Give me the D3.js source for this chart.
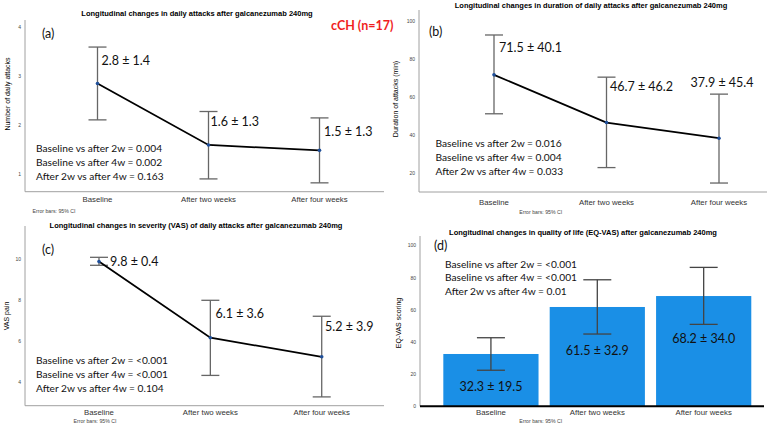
<!DOCTYPE html>
<html>
<head>
<meta charset="utf-8">
<script src="https://cdn.jsdelivr.net/npm/d3@7"></script>
<style>
  body { margin: 0; background: #fff; }
  svg { display: block; }
</style>
</head>
<body>
<svg id="chart" width="767" height="426"></svg>
<script>
const categories = ["Baseline", "After two weeks", "After four weeks"];

// (a) number of daily attacks
const attacksMean = [2.84, 1.59, 1.48];
const attacksLow = [2.10, 0.90, 0.82];
const attacksHigh = [3.58, 2.27, 2.14];
const attacksLabels = ["2.8 ± 1.4", "1.6 ± 1.3", "1.5 ± 1.3"];
const attacksTicks = [1, 2, 3, 4];
const attacksP = ["Baseline vs after 2w = 0.004", "Baseline vs after 4w = 0.002", "After 2w vs after 4w = 0.163"];

// (b) duration of attacks (min)
const durationMean = [71.6, 46.6, 38.4];
const durationLow = [51.2, 23.0, 14.9];
const durationHigh = [92.5, 70.4, 61.5];
const durationLabels = ["71.5 ± 40.1", "46.7 ± 46.2", "37.9 ± 45.4"];
const durationTicks = [20, 40, 60, 80, 100];
const durationP = ["Baseline vs after 2w = 0.016", "Baseline vs after 4w = 0.004", "After 2w vs after 4w = 0.033"];

// (c) VAS pain
const vasMean = [9.87, 6.15, 5.22];
const vasLow = [9.69, 4.31, 3.26];
const vasHigh = [10.08, 7.98, 7.20];
const vasLabels = ["9.8 ± 0.4", "6.1 ± 3.6", "5.2 ± 3.9"];
const vasTicks = [4, 6, 8, 10];
const vasP = ["Baseline vs after 2w = <0.001", "Baseline vs after 4w = <0.001", "After 2w vs after 4w = 0.104"];

// (d) EQ-VAS
const eqMean = [32.5, 61.7, 68.5];
const eqLow = [22.4, 44.9, 50.9];
const eqHigh = [42.6, 78.6, 86.3];
const eqLabels = ["32.3 ± 19.5", "61.5 ± 32.9", "68.2 ± 34.0"];
const eqTicks = [0, 20, 40, 60, 80, 100];
const eqP = ["Baseline vs after 2w = <0.001", "Baseline vs after 4w = <0.001", "After 2w vs after 4w = 0.01"];

const svg = d3.select('#chart');
svg.append('rect').attr('width', 767).attr('height', 426).attr('fill', '#fff');

const titleFont = '"Liberation Sans", Arial, sans-serif';
const noteFont = 'Lato, "Open Sans", sans-serif';

function zip(mean, low, high, labels) {
  return categories.map((c, i) => ({ cat: c, mean: mean[i], low: low[i], high: high[i], label: labels[i] }));
}

function frame(g, opt, x, y) {
  // title
  g.append('text')
    .attr('x', opt.titleX).attr('y', opt.titleY)
    .attr('text-anchor', 'middle')
    .style('font-family', titleFont).style('font-weight', 'bold').style('font-size', '7.5px')
    .text(opt.title);

  // y axis
  const ya = g.append('g')
    .attr('transform', `translate(${opt.left},0)`)
    .call(d3.axisLeft(y).tickValues(opt.ticks).tickFormat(d3.format('d')).tickSize(0).tickPadding(4));
  ya.select('.domain').remove();
  ya.selectAll('text').style('font-family', titleFont).style('font-size', '5px').attr('fill', '#444');
  g.append('line')
    .attr('x1', opt.left).attr('x2', opt.left)
    .attr('y1', opt.top).attr('y2', opt.bottom)
    .attr('stroke', '#a0a0a0').attr('stroke-width', 1);

  // x axis
  const xa = g.append('g')
    .attr('transform', `translate(0,${opt.bottom})`)
    .call(d3.axisBottom(x).tickSize(0).tickPadding(opt.catPad));
  xa.select('.domain').remove();
  xa.selectAll('text').style('font-family', titleFont).style('font-size', '7.8px').attr('fill', '#333');

  // y label
  g.append('text')
    .attr('transform', `translate(${opt.yLabelX},${opt.yLabelY}) rotate(-90)`)
    .attr('text-anchor', 'middle')
    .style('font-family', titleFont).style('font-size', '7px')
    .text(opt.yLabel);

  // error bar note
  g.append('text')
    .attr('x', opt.noteX).attr('y', opt.noteY)
    .attr('text-anchor', 'middle')
    .style('font-family', titleFont).style('font-size', '5.2px').attr('fill', '#444')
    .text('Error bars: 95% CI');

  // panel letter
  g.append('text')
    .attr('x', opt.letter[1]).attr('y', opt.letter[2])
    .style('font-family', noteFont).style('font-size', '12.5px').attr('fill', '#111')
    .text(opt.letter[0]);

  // p-values
  g.selectAll('text.p')
    .data(opt.pvals)
    .join('text')
    .attr('class', 'p')
    .attr('x', opt.pX)
    .attr('y', (d, i) => opt.pY[i])
    .style('font-family', noteFont).style('font-size', '10.2px').attr('fill', '#111')
    .text(d => d);
}

function linePanel(opt) {
  const g = svg.append('g');
  const x = d3.scaleBand().domain(categories).range(opt.xRange);
  const y = d3.scaleLinear().domain(opt.yDomain).range([opt.bottom, opt.top]);
  const cx = d => x(d.cat) + x.bandwidth() / 2;
  const data = zip(opt.mean, opt.low, opt.high, opt.labels);

  frame(g, opt, x, y);

  g.append('line')
    .attr('x1', opt.left).attr('x2', opt.right)
    .attr('y1', opt.bottom).attr('y2', opt.bottom)
    .attr('stroke', '#a0a0a0').attr('stroke-width', 1);

  // error bars
  const eb = g.selectAll('g.eb').data(data).join('g').attr('class', 'eb');
  eb.append('line')
    .attr('x1', cx).attr('x2', cx)
    .attr('y1', d => y(d.high)).attr('y2', d => y(d.low));
  eb.append('line')
    .attr('x1', d => cx(d) - 9).attr('x2', d => cx(d) + 9)
    .attr('y1', d => y(d.high)).attr('y2', d => y(d.high));
  eb.append('line')
    .attr('x1', d => cx(d) - 9).attr('x2', d => cx(d) + 9)
    .attr('y1', d => y(d.low)).attr('y2', d => y(d.low));
  eb.selectAll('line').attr('stroke', '#666').attr('stroke-width', 1.3);

  // mean line
  g.append('path')
    .datum(data)
    .attr('fill', 'none')
    .attr('stroke', '#000')
    .attr('stroke-width', 1.8)
    .attr('d', d3.line().x(cx).y(d => y(d.mean)));

  g.selectAll('circle.pt').data(data).join('circle')
    .attr('class', 'pt')
    .attr('cx', cx).attr('cy', d => y(d.mean))
    .attr('r', 1.8).attr('fill', '#1f4f9a');

  // value labels
  g.selectAll('text.val').data(data).join('text')
    .attr('class', 'val')
    .attr('x', (d, i) => opt.valPos[i][0])
    .attr('y', (d, i) => opt.valPos[i][1])
    .style('font-family', noteFont).style('font-size', '12.5px').attr('fill', '#111')
    .text(d => d.label);
}

function barPanel(opt) {
  const g = svg.append('g');
  const x = d3.scaleBand().domain(categories).range(opt.xRange).paddingInner(0.105).paddingOuter(0.05);
  const y = d3.scaleLinear().domain(opt.yDomain).range([opt.bottom, opt.top]);
  const cx = d => x(d.cat) + x.bandwidth() / 2;
  const data = zip(opt.mean, opt.low, opt.high, opt.labels);

  frame(g, opt, x, y);

  g.selectAll('rect.bar').data(data).join('rect')
    .attr('class', 'bar')
    .attr('x', d => x(d.cat)).attr('width', x.bandwidth())
    .attr('y', d => y(d.mean)).attr('height', d => y(0) - y(d.mean))
    .attr('fill', '#1a8fe6');

  g.append('line')
    .attr('x1', opt.left).attr('x2', opt.right)
    .attr('y1', opt.bottom).attr('y2', opt.bottom)
    .attr('stroke', '#000').attr('stroke-width', 2);

  const eb = g.selectAll('g.eb').data(data).join('g').attr('class', 'eb');
  eb.append('line')
    .attr('x1', cx).attr('x2', cx)
    .attr('y1', d => y(d.high)).attr('y2', d => y(d.low));
  eb.append('line')
    .attr('x1', d => cx(d) - 14).attr('x2', d => cx(d) + 14)
    .attr('y1', d => y(d.high)).attr('y2', d => y(d.high));
  eb.append('line')
    .attr('x1', d => cx(d) - 14).attr('x2', d => cx(d) + 14)
    .attr('y1', d => y(d.low)).attr('y2', d => y(d.low));
  eb.selectAll('line').attr('stroke', '#444').attr('stroke-width', 1.3);

  g.selectAll('text.val').data(data).join('text')
    .attr('class', 'val')
    .attr('x', cx)
    .attr('y', (d, i) => opt.valY[i])
    .attr('text-anchor', 'middle')
    .style('font-family', noteFont).style('font-size', '12.5px').attr('fill', '#111')
    .text(d => d.label);
}

linePanel({
  title: 'Longitudinal changes in daily attacks after galcanezumab 240mg',
  titleX: 197, titleY: 15.5,
  yLabel: 'Number of daily attacks', yLabelX: 10, yLabelY: 94,
  left: 25, right: 384, top: 20, bottom: 191.7,
  xRange: [42, 375], yDomain: [0.64, 4.13], ticks: attacksTicks,
  catPad: 5, noteX: 54, noteY: 212.5,
  mean: attacksMean, low: attacksLow, high: attacksHigh, labels: attacksLabels,
  valPos: [[101.5, 64.5], [210.5, 125.5], [324, 136]],
  letter: ['(a)', 42, 37.5],
  pvals: attacksP, pX: 36, pY: [152, 166, 180]
});

linePanel({
  title: 'Longitudinal changes in duration of daily attacks after galcanezumab 240mg',
  titleX: 591, titleY: 8,
  yLabel: 'Duration of attacks (min)', yLabelX: 398, yLabelY: 99,
  left: 419, right: 767, top: 10, bottom: 192,
  xRange: [437.75, 775.25], yDomain: [10.2, 105.6], ticks: durationTicks,
  catPad: 7, noteX: 540.7, noteY: 213.5,
  mean: durationMean, low: durationLow, high: durationHigh, labels: durationLabels,
  valPos: [[499, 52], [610, 91], [690.5, 86.5]],
  letter: ['(b)', 429, 36],
  pvals: durationP, pX: 435.5, pY: [147, 160.5, 174.5]
});

linePanel({
  title: 'Longitudinal changes in severity (VAS) of daily attacks after galcanezumab 240mg',
  titleX: 196, titleY: 228,
  yLabel: 'VAS pain', yLabelX: 9, yLabelY: 316,
  left: 25, right: 384, top: 226, bottom: 405.7,
  xRange: [43.3, 377.4], yDomain: [2.83, 11.61], ticks: vasTicks,
  catPad: 3.5, noteX: 95, noteY: 423,
  mean: vasMean, low: vasLow, high: vasHigh, labels: vasLabels,
  valPos: [[110, 265.5], [215.5, 317.5], [325, 331]],
  letter: ['(c)', 42, 253.5],
  pvals: vasP, pX: 36, pY: [363.5, 377.5, 391.5]
});

barPanel({
  title: 'Longitudinal changes in quality of life (EQ-VAS) after galcanezumab 240mg',
  titleX: 583, titleY: 234.5,
  yLabel: 'EQ-VAS scoring', yLabelX: 401, yLabelY: 323,
  left: 420, right: 764, top: 236, bottom: 406.3,
  xRange: [438, 756.6], yDomain: [0, 105.8], ticks: eqTicks,
  catPad: 3.5, noteX: 540.7, noteY: 423,
  mean: eqMean, low: eqLow, high: eqHigh, labels: eqLabels,
  valY: [390.5, 354.5, 343],
  letter: ['(d)', 434, 250],
  pvals: eqP, pX: 445, pY: [268, 281, 295]
});

// cohort label
svg.append('text')
  .attr('x', 331).attr('y', 30)
  .style('font-family', noteFont).style('font-weight', 'bold').style('font-size', '12.5px')
  .attr('fill', '#f01e1e')
  .text('cCH (n=17)');
</script>
</body>
</html>
